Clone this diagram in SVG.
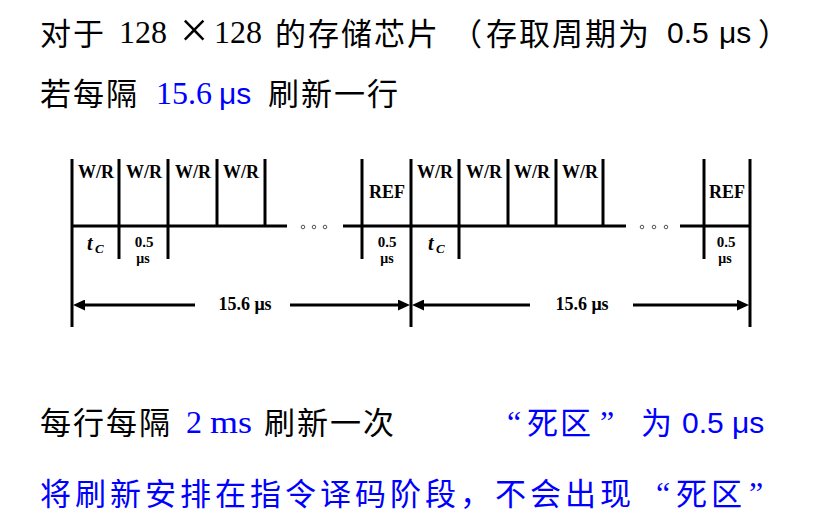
<svg xmlns="http://www.w3.org/2000/svg" width="837" height="525" viewBox="0 0 837 525">
<style>
  .cjk { font-family: "Noto Sans CJK SC", "Noto Sans CJK TC", sans-serif; font-size: 31px; letter-spacing: 2px; }
  .cjk4 { font-family: "Noto Sans CJK SC", sans-serif; font-size: 31px; letter-spacing: 4px; }
  .ser { font-family: "Liberation Serif", "Times New Roman", serif; font-size: 32px; }
  .san { font-family: "Liberation Sans", Arial, sans-serif; font-size: 30px; }
  .k { fill: #000; }
  .b { fill: #0000ff; }
  .ln { stroke: #000; stroke-width: 3; fill: none; stroke-linecap: butt; }
  .dot { fill: #fff; stroke: #555; stroke-width: 1; }
  .lab { font-family: "Liberation Serif", "Times New Roman", serif; font-weight: bold; fill: #000; }
  .wr { font-size: 18px; text-anchor: middle; }
  .us1 { font-size: 15px; text-anchor: middle; }
  .us2 { font-size: 14px; text-anchor: middle; }
  .dim { font-size: 18px; text-anchor: middle; }
  .t { font-size: 20px; font-style: italic; }
  .c { font-size: 13px; font-style: italic; }
</style>
<defs>
  <marker id="ah" viewBox="0 0 12 11" refX="1" refY="5.5" markerWidth="12" markerHeight="11" markerUnits="userSpaceOnUse" orient="auto">
    <path d="M0,0 L12,5.5 L0,11 z" fill="#000"/>
  </marker>
</defs>

<!-- Heading texts -->
<g id="line1">
  <text class="cjk k" x="40" y="45">对于</text>
  <text class="ser k" x="119" y="43">128</text>
  <text class="ser k" x="180" y="47" style="font-size:50px">×</text>
  <text class="ser k" x="214" y="43">128</text>
  <text class="cjk k" x="275" y="45">的存储芯片</text>
  <text class="cjk k" x="451" y="45">（</text>
  <text class="cjk k" x="486" y="45">存取周期为</text>
  <text class="san k" x="667" y="43">0.5</text>
  <text class="san k" x="719" y="43">μs</text>
  <text class="cjk k" x="758" y="45">）</text>
</g>
<g id="line2">
  <text class="cjk k" x="40" y="105">若每隔</text>
  <text class="ser b" x="156" y="104">15.6</text>
  <text class="san b" x="219" y="104">μs</text>
  <text class="cjk k" x="268" y="105">刷新一行</text>
</g>

<!-- Timing diagram -->
<g id="axis">
  <line class="ln" x1="72" y1="226" x2="287" y2="226"/>
  <line class="ln" x1="343" y1="226" x2="626" y2="226"/>
  <line class="ln" x1="680" y1="226" x2="750" y2="226"/>
  <circle class="dot" cx="303" cy="227" r="1.8"/>
  <circle class="dot" cx="314" cy="227" r="1.8"/>
  <circle class="dot" cx="325" cy="227" r="1.8"/>
  <circle class="dot" cx="642" cy="227" r="1.8"/>
  <circle class="dot" cx="654" cy="227" r="1.8"/>
  <circle class="dot" cx="666" cy="227" r="1.8"/>
</g>

<g id="row1">
  <line class="ln" x1="72" y1="159" x2="72" y2="327"/>
  <line class="ln" x1="119" y1="159" x2="119" y2="259"/>
  <line class="ln" x1="168" y1="159" x2="168" y2="259"/>
  <line class="ln" x1="217" y1="159" x2="217" y2="226"/>
  <line class="ln" x1="265" y1="159" x2="265" y2="226"/>
  <line class="ln" x1="362" y1="159" x2="362" y2="259"/>
  <text class="lab wr" x="96" y="178">W/R</text>
  <text class="lab wr" x="144" y="178">W/R</text>
  <text class="lab wr" x="193" y="178">W/R</text>
  <text class="lab wr" x="241" y="178">W/R</text>
  <text class="lab wr" x="387" y="198">REF</text>
  <text class="lab t" x="87" y="250">t</text>
  <text class="lab c" x="95" y="253">C</text>
  <text class="lab us1" x="144" y="247">0.5</text>
  <text class="lab us2" x="143" y="263">μs</text>
  <text class="lab us1" x="387" y="247">0.5</text>
  <text class="lab us2" x="387" y="263">μs</text>
</g>

<g id="row2">
  <line class="ln" x1="411" y1="159" x2="411" y2="327"/>
  <line class="ln" x1="459" y1="159" x2="459" y2="259"/>
  <line class="ln" x1="508" y1="159" x2="508" y2="226"/>
  <line class="ln" x1="556" y1="159" x2="556" y2="226"/>
  <line class="ln" x1="603" y1="159" x2="603" y2="226"/>
  <line class="ln" x1="704" y1="159" x2="704" y2="259"/>
  <line class="ln" x1="750" y1="159" x2="750" y2="327"/>
  <text class="lab wr" x="435" y="178">W/R</text>
  <text class="lab wr" x="484" y="178">W/R</text>
  <text class="lab wr" x="532" y="178">W/R</text>
  <text class="lab wr" x="580" y="178">W/R</text>
  <text class="lab wr" x="727" y="198">REF</text>
  <text class="lab t" x="428" y="250">t</text>
  <text class="lab c" x="436" y="253">C</text>
  <text class="lab us1" x="726" y="247">0.5</text>
  <text class="lab us2" x="725" y="263">μs</text>
</g>

<g id="connectors">
  <line class="ln" x1="195" y1="305" x2="84" y2="305" marker-end="url(#ah)"/>
  <line class="ln" x1="290" y1="305" x2="399" y2="305" marker-end="url(#ah)"/>
  <line class="ln" x1="530" y1="305" x2="423" y2="305" marker-end="url(#ah)"/>
  <line class="ln" x1="633" y1="305" x2="738" y2="305" marker-end="url(#ah)"/>
  <text class="lab dim" x="245" y="310">15.6 μs</text>
  <text class="lab dim" x="582" y="310">15.6 μs</text>
</g>

<!-- Bottom texts -->
<g id="line3">
  <text class="cjk k" x="40" y="434">每行每隔</text>
  <text class="ser b" x="186" y="433">2</text>
  <text class="ser b" x="210" y="433" textLength="42" lengthAdjust="spacingAndGlyphs">ms</text>
  <text class="cjk k" x="264" y="434">刷新一次</text>
  <text class="ser b" x="507" y="433">“</text>
  <text class="cjk b" x="527" y="434">死区</text>
  <text class="ser b" x="600" y="433">”</text>
  <text class="cjk b" x="641" y="434">为</text>
  <text class="san b" x="682" y="433">0.5</text>
  <text class="san b" x="732" y="433">μs</text>
</g>
<g id="line4">
  <text class="cjk4 b" x="40" y="505">将刷新安排在指令译码阶段，不会出现</text>
  <text class="ser b" x="656" y="504">“</text>
  <text class="cjk4 b" x="676" y="505">死区</text>
  <text class="ser b" x="749" y="504">”</text>
</g>
</svg>
